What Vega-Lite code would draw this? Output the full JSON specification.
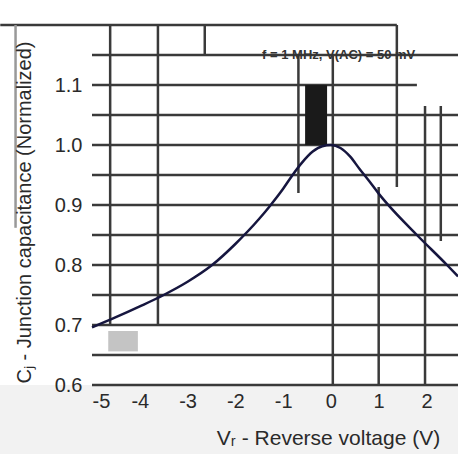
{
  "$schema": "https://vega.github.io/schema/vega-lite/v6.json",
  "width": 366,
  "height": 360,
  "autosize": "none",
  "padding": {"left": 92, "top": 25, "right": 0, "bottom": 69},
  "background": "white",
  "config": {"view": {"stroke": null}, "font": "Liberation Sans"},
  "datasets": {
    "curve": [
      {"v": -5, "c": 0.696}, {"v": -4.5, "c": 0.713}, {"v": -4, "c": 0.731}, {"v": -3.5, "c": 0.75},
      {"v": -3, "c": 0.772}, {"v": -2.5, "c": 0.799}, {"v": -2, "c": 0.835}, {"v": -1.5, "c": 0.877},
      {"v": -1.28, "c": 0.898}, {"v": -1, "c": 0.927}, {"v": -0.82, "c": 0.948},
      {"v": -0.6, "c": 0.971}, {"v": -0.38, "c": 0.989}, {"v": -0.18, "c": 0.998}, {"v": 0, "c": 1.0},
      {"v": 0.2, "c": 0.995}, {"v": 0.4, "c": 0.981}, {"v": 0.6, "c": 0.96}, {"v": 0.8, "c": 0.94},
      {"v": 1.0, "c": 0.919}, {"v": 1.19, "c": 0.901}, {"v": 1.8, "c": 0.85}, {"v": 2.43, "c": 0.8}, {"v": 2.66, "c": 0.781}
    ],
    "hgrid": [
      {"y": 0.6, "x": -5, "x2": 2.66}, {"y": 0.65, "x": -5, "x2": 2.66}, {"y": 0.7, "x": -5, "x2": 2.66},
      {"y": 0.75, "x": -5, "x2": 2.66}, {"y": 0.8, "x": -5, "x2": 2.66}, {"y": 0.85, "x": -5, "x2": 2.66},
      {"y": 0.9, "x": -5, "x2": 2.66}, {"y": 0.95, "x": -5, "x2": 2.66}, {"y": 1.0, "x": -5, "x2": 2.66},
      {"y": 1.05, "x": -5, "x2": 2.66}, {"y": 1.1, "x": -5, "x2": 1.8}, {"y": 1.15, "x": -5, "x2": 2.66},
      {"y": 1.2, "x": -6.92, "x2": 1.38}
    ],
    "vgrid": [
      {"x": -6.6, "y": 0.862, "y2": 1.2, "k": "light"},
      {"x": -4.62, "y": 0.7, "y2": 1.2, "k": "dark"},
      {"x": -3.62, "y": 0.7, "y2": 1.2, "k": "dark"},
      {"x": -2.64, "y": 1.15, "y2": 1.2, "k": "dark"},
      {"x": -0.68, "y": 0.92, "y2": 1.15, "k": "dark"},
      {"x": 0.04, "y": 0.6, "y2": 1.15, "k": "dark"},
      {"x": 1.0, "y": 0.6, "y2": 0.93, "k": "dark"},
      {"x": 1.38, "y": 0.93, "y2": 1.2, "k": "dark"},
      {"x": 1.97, "y": 0.6, "y2": 1.065, "k": "dark"},
      {"x": 2.3, "y": 0.84, "y2": 1.065, "k": "dark"}
    ],
    "blocks": [
      {"x": -0.54, "x2": -0.08, "y": 1.0, "y2": 1.1, "k": "dark"},
      {"x": -4.66, "x2": -4.04, "y": 0.656, "y2": 0.69, "k": "light"}
    ],
    "labels": [
      {"x": -1.44, "y": 1.15, "t": "f = 1 MHz, V(AC) = 50 mV"}
    ],
    "bottom": [{"x": -7, "x2": 3, "y": 0.6, "y2": 0.45}]
  },
  "layer": [
    {
      "data": {"name": "bottom"},
      "mark": {"type": "rect", "color": "#f2f2f2"},
      "encoding": {
        "x": {
          "field": "x", "type": "quantitative",
          "scale": {"domain": [-5, 2.66], "nice": false, "zero": false},
          "axis": {
            "values": [-5, -4, -3, -2, -1, 0, 1, 2],
            "labelExpr": "datum.value < 0 ? '-' + abs(datum.value) : '' + datum.value",
            "title": "Vᵣ - Reverse voltage (V)",
            "titleFont": "Liberation Sans", "titleFontSize": 21, "titleFontWeight": "normal", "titleColor": "#2a2a2a",
            "titleX": 236, "titleY": 59, "titleAlign": "center", "titleBaseline": "alphabetic",
            "labelFont": "Liberation Sans", "labelFontSize": 20, "labelColor": "#2a2a2a", "labelPadding": 6,
            "ticks": false, "domain": false, "grid": false, "zindex": 1
          }
        },
        "x2": {"field": "x2"},
        "y": {
          "field": "y", "type": "quantitative",
          "scale": {"domain": [0.6, 1.2], "nice": false, "zero": false},
          "axis": {
            "values": [0.6, 0.7, 0.8, 0.9, 1.0, 1.1],
            "format": ".1f",
            "title": "Cⱼ - Junction capacitance (Normalized)",
            "titleFont": "Liberation Sans", "titleFontSize": 20, "titleFontWeight": "normal", "titleColor": "#2a2a2a",
            "titleX": -58, "titleY": 358, "titleAlign": "left", "titleAngle": 270, "titleBaseline": "bottom",
            "labelFont": "Liberation Sans", "labelFontSize": 20, "labelColor": "#2a2a2a", "labelPadding": 10,
            "ticks": false, "domain": false, "grid": false, "zindex": 1
          }
        },
        "y2": {"field": "y2"}
      }
    },
    {
      "data": {"name": "hgrid"},
      "mark": {"type": "rule", "color": "#3a3a3a", "strokeWidth": 2.5},
      "encoding": {
        "x": {"field": "x", "type": "quantitative"},
        "x2": {"field": "x2"},
        "y": {"field": "y", "type": "quantitative"}
      }
    },
    {
      "data": {"name": "vgrid"},
      "mark": {"type": "rule", "strokeWidth": 2.5},
      "encoding": {
        "x": {"field": "x", "type": "quantitative"},
        "y": {"field": "y", "type": "quantitative"},
        "y2": {"field": "y2"},
        "color": {"field": "k", "type": "nominal", "scale": {"domain": ["dark", "light"], "range": ["#3a3a3a", "#999999"]}, "legend": null}
      }
    },
    {
      "data": {"name": "blocks"},
      "mark": {"type": "rect"},
      "encoding": {
        "x": {"field": "x", "type": "quantitative"},
        "x2": {"field": "x2"},
        "y": {"field": "y", "type": "quantitative"},
        "y2": {"field": "y2"},
        "fill": {"field": "k", "type": "nominal", "scale": {"domain": ["dark", "light"], "range": ["#1a1a1a", "#c4c4c4"]}, "legend": null}
      }
    },
    {
      "data": {"name": "labels"},
      "mark": {"type": "text", "align": "left", "baseline": "middle", "font": "Liberation Sans", "fontSize": 13, "fontWeight": "bold", "color": "#333"},
      "encoding": {
        "x": {"field": "x", "type": "quantitative"},
        "y": {"field": "y", "type": "quantitative"},
        "text": {"field": "t"}
      }
    },
    {
      "data": {"name": "curve"},
      "mark": {"type": "line", "color": "#16163f", "strokeWidth": 2.5, "interpolate": "monotone"},
      "encoding": {
        "x": {"field": "v", "type": "quantitative"},
        "y": {"field": "c", "type": "quantitative"}
      }
    }
  ]
}
